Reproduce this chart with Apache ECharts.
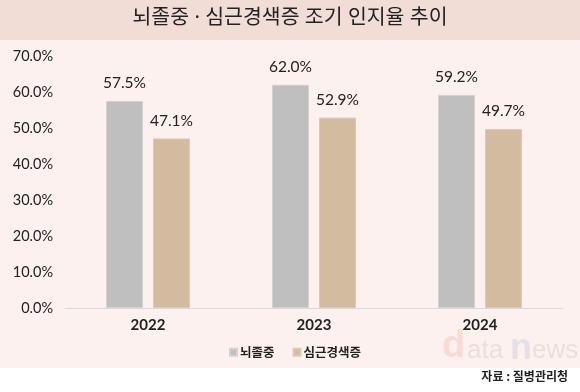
<!DOCTYPE html>
<html><head><meta charset="utf-8">
<script src="https://cdn.jsdelivr.net/npm/echarts@6/dist/echarts.min.js"></script>
<style>html,body{margin:0;padding:0;background:#fff}#c{width:580px;height:392px}</style>
</head><body><div id="c"></div>
<script>
const categories = ['2022', '2023', '2024'];
const strokeValues = [57.5, 62.0, 59.2];
const cardiacValues = [47.1, 52.9, 49.7];
const seriesNames = ['뇌졸중', '심근경색증'];
const yTicks = [0, 10, 20, 30, 40, 50, 60, 70];

const chart = echarts.init(document.getElementById('c'), null, {renderer: 'canvas'});
const F = 'Lato, "Noto Sans CJK KR", sans-serif';
chart.setOption({
  animation: false,
  backgroundColor: '#ffffff',
  graphic: [
    {type: 'rect', left: 0, top: 0, shape: {width: 580, height: 40}, style: {fill: '#f1ddd6'}, z: -10},
    {type: 'rect', left: 0, top: 40, shape: {width: 580, height: 328}, style: {fill: '#fcf1ee'}, z: -10},
    {type: 'text', left: 'center', top: 8, style: {text: '뇌졸중 · 심근경색증 조기 인지율 추이', font: '20.5px "Noto Sans", "Noto Sans CJK KR", sans-serif', fill: '#222'}},
    {type: 'text', right: 12, top: 370, style: {text: '자료 : 질병관리청', font: 'bold 12px "Noto Sans CJK KR", sans-serif', fill: '#222'}},
    {type: 'text', left: 442, top: 328, style: {text: 'd', font: 'bold 38px "Liberation Sans", sans-serif', fill: 'rgba(240,150,140,0.25)'}, z: -5},
    {type: 'text', left: 467, top: 338, style: {text: 'ata', font: '26px "Liberation Sans", sans-serif', fill: 'rgba(180,170,170,0.25)'}, z: -5},
    {type: 'text', left: 510, top: 331, style: {text: 'n', font: 'bold 36px "Liberation Sans", sans-serif', fill: 'rgba(170,180,220,0.28)'}, z: -5},
    {type: 'text', left: 532, top: 338, style: {text: 'ews', font: '26px "Liberation Sans", sans-serif', fill: 'rgba(180,170,170,0.25)'}, z: -5}
  ],
  grid: {left: 65, right: 17, top: 56, bottom: 84, containLabel: false},
  legend: {
    data: seriesNames, left: 224, top: 341, itemWidth: 7, itemHeight: 7, itemGap: 18,
    icon: 'rect', textStyle: {fontFamily: '"Noto Sans CJK KR", sans-serif', fontSize: 12.5, fontWeight: 'bold', color: '#222', padding: [0,0,0,-2]}
  },
  xAxis: {
    type: 'category', data: categories,
    axisLine: {lineStyle: {color: '#d9d9d9', width: 1}},
    axisTick: {show: false},
    axisLabel: {fontFamily: F, fontSize: 15, fontWeight: 'bold', color: '#222', margin: 10}
  },
  yAxis: {
    type: 'value', min: yTicks[0], max: yTicks[yTicks.length-1], interval: 10,
    splitLine: {show: false}, axisLine: {show: false}, axisTick: {show: false},
    axisLabel: {fontFamily: F, fontSize: 14.5, color: '#222', margin: 12, formatter: v => v.toFixed(1) + '%'}
  },
  series: [
    {name: seriesNames[0], type: 'bar', data: strokeValues, barWidth: 37, barGap: '27%',
     itemStyle: {color: '#bfbfbf', borderColor: '#d2d2d2', borderWidth: 1},
     label: {show: true, position: 'top', distance: 10, fontFamily: F, fontSize: 15.5, color: '#222', formatter: p => p.value.toFixed(1) + '%'}},
    {name: seriesNames[1], type: 'bar', data: cardiacValues, barWidth: 37,
     itemStyle: {color: '#d3bb9f', borderColor: '#dccab4', borderWidth: 1},
     label: {show: true, position: 'top', distance: 10, fontFamily: F, fontSize: 15.5, color: '#222', formatter: p => p.value.toFixed(1) + '%'}}
  ]
});
</script></body></html>
